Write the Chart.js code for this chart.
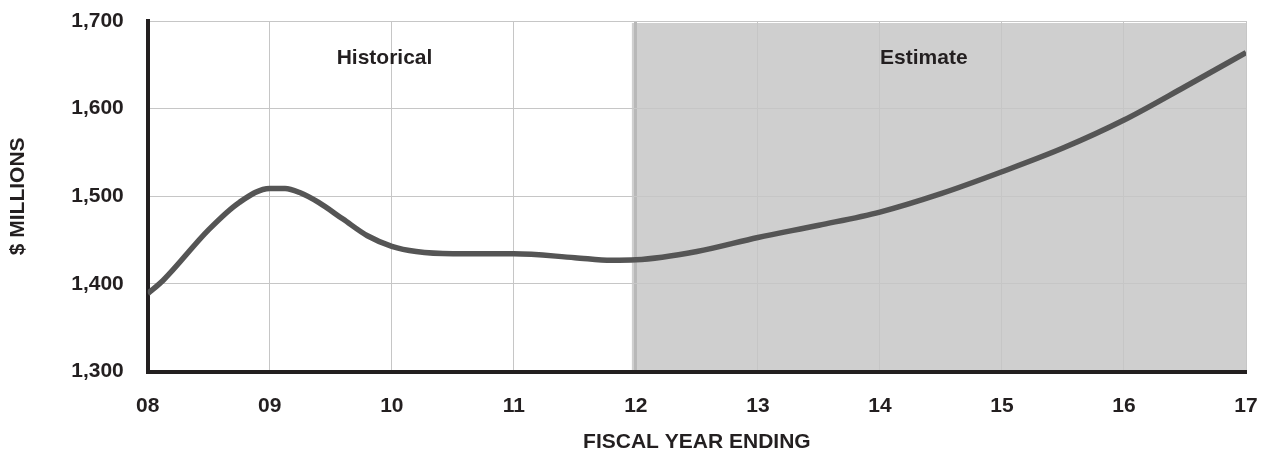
<!DOCTYPE html>
<html>
<head>
<meta charset="utf-8">
<script src="https://cdn.jsdelivr.net/npm/chart.js@4/dist/chart.umd.min.js"></script>
<style>
  html, body { margin: 0; padding: 0; background: #fff; }
  #wrap { width: 1263px; height: 455px; }
</style>
</head>
<body>
<div id="wrap"><canvas id="revenueChart"></canvas></div>
<script>
// fiscal year (08 = 2008) and revenue in $ millions
const fiscalYears = [8, 8.125, 8.5, 8.75, 9, 9.125, 9.25, 9.4, 9.6, 9.8, 10, 10.2, 10.5, 11, 11.5, 11.8, 12, 12.5, 13, 13.5, 14, 14.5, 15, 15.5, 16, 16.5, 17];
const revenue = [1389, 1404, 1462, 1493, 1509, 1509, 1504, 1493, 1474, 1455, 1443, 1437, 1434.5, 1434.5, 1430, 1427, 1427.5, 1437, 1453, 1467, 1482, 1503, 1528, 1555, 1587, 1625, 1664];
const xTickLabels = ["08", "09", "10", "11", "12", "13", "14", "15", "16", "17"];
const estimateStart = 12;
const periodLabels = [
  { text: "Historical", at: 9.94 },
  { text: "Estimate", at: 14.36 }
];

const ink = "#231f20";
const font = { family: "'Liberation Sans', Arial, sans-serif", size: 21, weight: "bold" };

// grey estimate band + period labels
const bandPlugin = {
  id: "band",
  beforeDraw(chart) {
    const { ctx, chartArea, scales } = chart;
    const x0 = scales.x.getPixelForValue(estimateStart) - 4;
    ctx.save();
    ctx.fillStyle = "#cfcfcf";
    ctx.fillRect(x0, chartArea.top + 2, chartArea.right - x0, chartArea.bottom - chartArea.top - 2);
    ctx.restore();
  },
  afterDatasetsDraw(chart) {
    const { ctx, chartArea, scales } = chart;
    ctx.save();
    ctx.fillStyle = ink;
    ctx.font = "bold 21px 'Liberation Sans', Arial, sans-serif";
    ctx.textAlign = "center";
    ctx.textBaseline = "middle";
    periodLabels.forEach((p) => {
      ctx.fillText(p.text, scales.x.getPixelForValue(p.at), chartArea.top + 37);
    });
    ctx.restore();
  }
};

const config = {
  type: "line",
  data: {
    datasets: [
      {
        data: fiscalYears.map((x, i) => ({ x: x, y: revenue[i] })),
        borderColor: "#555555",
        borderWidth: 5.5,
        pointRadius: 0,
        cubicInterpolationMode: "monotone",
        fill: false
      }
    ]
  },
  options: {
    responsive: true,
    maintainAspectRatio: false,
    animation: false,
    layout: { padding: { top: 21, right: 17, left: 6, bottom: 0 } },
    plugins: {
      legend: { display: false },
      tooltip: { enabled: false }
    },
    scales: {
      x: {
        type: "linear",
        min: 8,
        max: 17,
        ticks: {
          stepSize: 1,
          color: ink,
          font: font,
          padding: 0,
          maxRotation: 0,
          callback: (v) => xTickLabels[Math.round(v) - 8]
        },
        grid: {
          drawTicks: true,
          tickLength: 22,
          tickColor: "transparent",
          color: (c) => (c.tick && c.tick.value === estimateStart ? "#b8b8b8" : "#c6c6c6"),
          lineWidth: (c) => (c.tick && c.tick.value === estimateStart ? 3 : 1)
        },
        border: { color: ink, width: 4 },
        title: {
          display: true,
          text: "FISCAL YEAR ENDING",
          color: ink,
          font: font,
          padding: { top: 11, bottom: 0 }
        }
      },
      y: {
        min: 1300,
        max: 1700,
        ticks: {
          stepSize: 100,
          color: ink,
          font: font,
          padding: 0
        },
        grid: {
          drawTicks: true,
          tickLength: 24,
          tickColor: "transparent",
          color: "#c6c6c6",
          lineWidth: 1
        },
        border: { color: ink, width: 4 },
        title: {
          display: true,
          text: "$ MILLIONS",
          color: ink,
          font: font,
          padding: { top: 0, bottom: 40 }
        }
      }
    }
  },
  plugins: [bandPlugin]
};

const revenueChart = new Chart(document.getElementById("revenueChart"), config);
</script>
</body>
</html>
